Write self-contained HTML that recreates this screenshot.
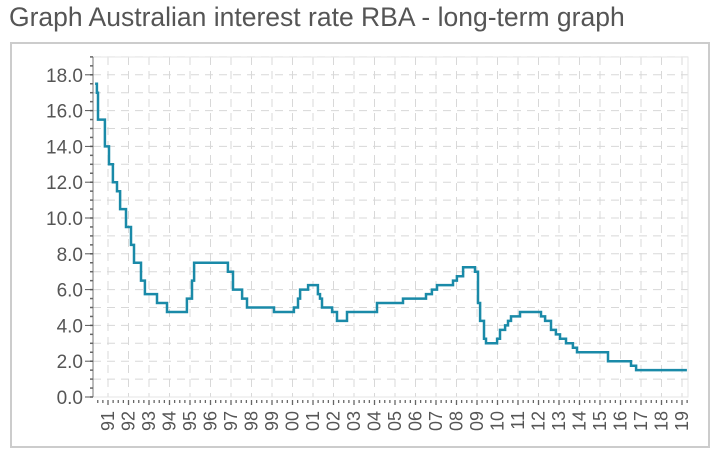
<!DOCTYPE html>
<html><head><meta charset="utf-8"><style>
body{margin:0;background:#fff;width:722px;height:458px;overflow:hidden;font-family:"Liberation Sans",sans-serif}
#title{position:absolute;left:9px;top:2px;font-size:26.5px;color:#555;white-space:nowrap}
#frame{position:absolute;left:10px;top:42px;width:696px;height:402px;border:2px solid #ccc;box-sizing:content-box}
svg{position:absolute;left:0;top:0}
</style></head><body>
<div id="title">Graph Australian interest rate RBA - long-term graph</div>
<div id="frame"></div>
<svg id="chart" width="722" height="458"></svg>
<script>
const stepYears=[1990.37,1990.46,1990.51,1990.85,1991.05,1991.24,1991.44,1991.59,1991.88,1992.12,1992.27,1992.61,1992.80,1993.39,1993.88,1994.85,1995.10,1995.20,1996.85,1997.10,1997.54,1997.78,1999.10,2000.07,2000.27,2000.37,2000.76,2001.24,2001.34,2001.44,2001.93,2002.17,2002.66,2004.12,2005.39,2006.51,2006.80,2007.05,2007.83,2008.02,2008.32,2008.90,2009.05,2009.15,2009.34,2009.44,2009.98,2010.12,2010.37,2010.51,2010.66,2011.10,2012.12,2012.32,2012.61,2012.85,2013.05,2013.34,2013.68,2013.88,2015.39,2016.51,2016.76];
const stepRates=[17.5,17.0,15.5,14.0,13.0,12.0,11.5,10.5,9.5,8.5,7.5,6.5,5.75,5.25,4.75,5.5,6.5,7.5,7.0,6.0,5.5,5.0,4.75,5.0,5.5,6.0,6.25,5.75,5.5,5.0,4.75,4.25,4.75,5.25,5.5,5.75,6.0,6.25,6.5,6.75,7.25,7.0,5.25,4.25,3.25,3.0,3.25,3.75,4.0,4.25,4.5,4.75,4.5,4.25,3.75,3.5,3.25,3.0,2.75,2.5,2.0,1.75,1.5];
const endYear=2019.24;
const yTicks=[0,2,4,6,8,10,12,14,16,18];
const xLabels=["91","92","93","94","95","96","97","98","99","00","01","02","03","04","05","06","07","08","09","10","11","12","13","14","15","16","17","18","19"];
const svg=document.getElementById('chart');const NS='http://www.w3.org/2000/svg';
function xs(y){return 108+(y-1991)*20.5;}
function ys(v){return 397-v*17.9;}
function mk(t,a,p){const e=document.createElementNS(NS,t);for(const k in a)e.setAttribute(k,a[k]);(p||svg).appendChild(e);return e;}
const L=93,R=688,T=57,B=397;
const grid=mk('g',{stroke:'#d8d8d8','stroke-width':1,'stroke-dasharray':'8,6'});

for(let v=1;v<=19;v++){mk('line',{x1:L,x2:R,y1:ys(v),y2:ys(v)},grid);}
for(let i=0;i<xLabels.length;i++){const x=xs(1991+i);mk('line',{x1:x,x2:x,y1:T,y2:B},grid);}
mk('rect',{x:L,y:T,width:R-L,height:B-T,fill:'none',stroke:'#e6e6e6'});
const ax=mk('line',{x1:L,x2:L,y1:T,y2:B,stroke:'#777','stroke-width':1});

for(let v=0;v<=19;v+=0.5){mk('line',{x1:L-3,x2:L,y1:ys(v),y2:ys(v),stroke:'#666','stroke-width':1.5});}
yTicks.forEach(v=>{mk('line',{x1:L-8,x2:L,y1:ys(v),y2:ys(v),stroke:'#555'});
const t=mk('text',{x:L-10,y:ys(v)+7,'text-anchor':'end','font-size':19,fill:'#555'});t.textContent=v.toFixed(1);
});
for(let i=0;i<xLabels.length;i++){
 for(let q=0;q<4;q++){const x=xs(1991+i-0.5+q*0.25);if(x<L+2)continue;mk('line',{x1:x,x2:x,y1:B+3,y2:B+(q==2?8:6),stroke:'#666','stroke-width':1.3});}
 const x=xs(1991+i);
 const t=mk('text',{x:0,y:0,transform:`translate(${x+6},411) rotate(-90)`,'text-anchor':'end','font-size':18,fill:'#555'});
 t.textContent=xLabels[i];}
let d='';
for(let i=0;i<stepYears.length;i++){const x=xs(stepYears[i]),y=ys(stepRates[i]);
 d+=(i==0?'M':'L')+x.toFixed(1)+','+(i==0?y:ys(stepRates[i-1])).toFixed(1)+' L'+x.toFixed(1)+','+y.toFixed(1)+' ';}
d+='L'+xs(endYear).toFixed(1)+','+ys(stepRates[stepRates.length-1]).toFixed(1);
const ln=mk('path',{d:d,fill:'none',stroke:'#1a8aa8','stroke-width':2.5});

</script>
</body></html>
